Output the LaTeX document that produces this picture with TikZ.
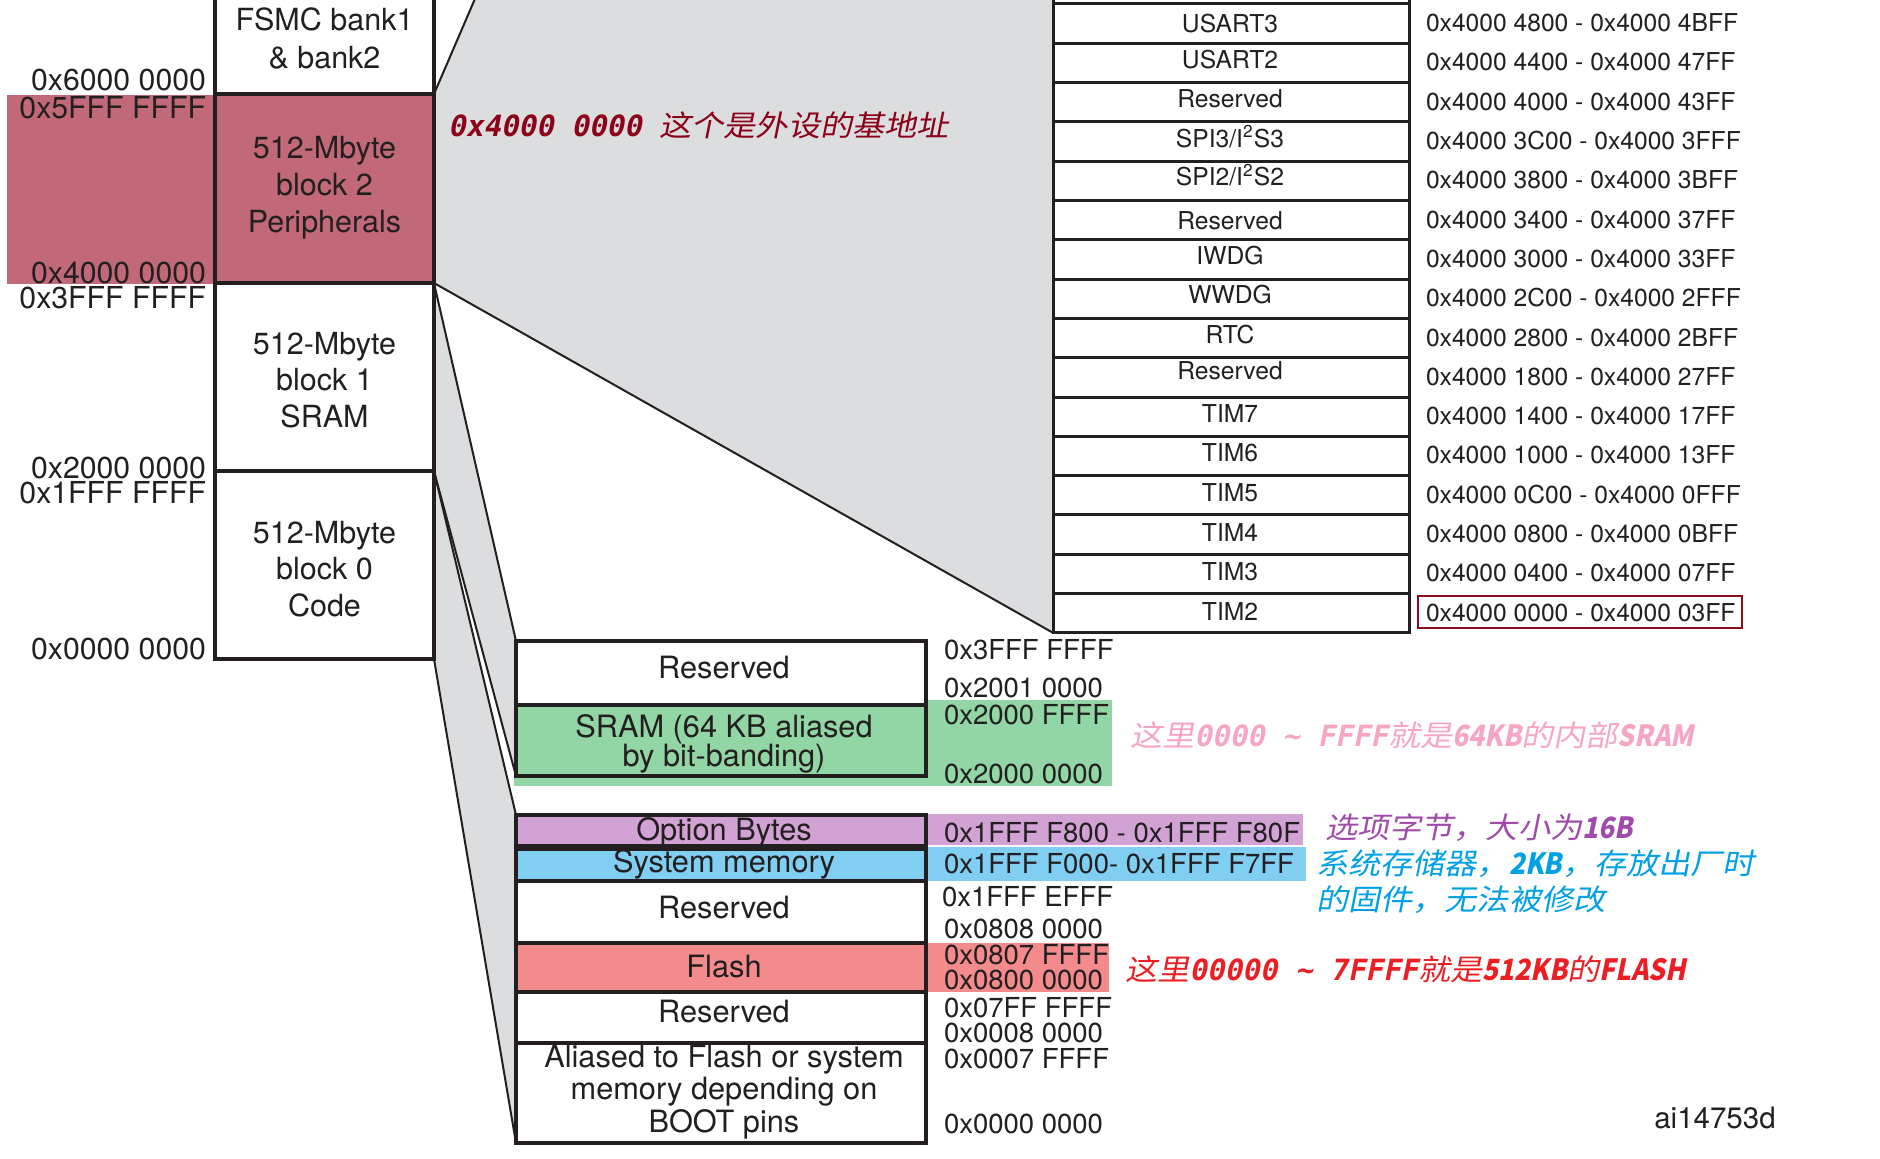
\documentclass[tikz,border=0pt]{standalone}
\usepackage{fontspec}
\setmainfont{TeX Gyre Heros}
\newfontfamily\cjk[FakeSlant=0.2,FakeStretch=1.1]{Noto Sans CJK SC}
\newfontfamily\latb[FakeSlant=0.2,FakeStretch=0.9]{Noto Sans CJK SC}
\newfontfamily\hexmono[FakeSlant=0.2]{DejaVu Sans Mono}
\usetikzlibrary{backgrounds}

% centred lines whose base is the first line's baseline
\newcommand\mlines[2]{\vtop{\baselineskip=#1\relax\halign{\hfil##\hfil\cr#2\crcr}}}
\newcommand\zh[1]{{\cjk\mdseries #1}}
\newcommand\zhb[1]{{\latb\bfseries #1}}
\newcommand\hx[1]{{\hexmono\bfseries #1}}

\definecolor{ink}{RGB}{35,31,32}
\definecolor{periph}{RGB}{193,105,121}
\definecolor{zoomgray}{RGB}{220,221,223}
\definecolor{sramgreen}{RGB}{145,214,164}
\definecolor{optpurple}{RGB}{209,162,211}
\definecolor{sysblue}{RGB}{128,206,242}
\definecolor{flashred}{RGB}{243,139,141}
\definecolor{boxred}{RGB}{139,10,30}
\definecolor{notedark}{RGB}{140,0,25}
\definecolor{notepink}{RGB}{247,165,196}
\definecolor{notepurple}{RGB}{160,75,170}
\definecolor{noteblue}{RGB}{0,160,230}
\definecolor{notered}{RGB}{235,30,35}

\begin{document}
\begin{tikzpicture}[x=0.4pt,y=-0.4pt,
  every node/.style={inner sep=0pt,outer sep=0pt,text=ink},
  memblk/.style={draw=ink,line width=1.3pt,fill=white,minimum width=219*0.4pt},
  periphrow/.style={draw=ink,line width=1.2pt,fill=white,minimum width=356*0.4pt,minimum height=39.3*0.4pt},
  subblk/.style={draw=ink,line width=1.3pt,fill=white,minimum width=410*0.4pt},
  zoomline/.style={draw=ink,line width=0.8pt},
  bigtxt/.style={font=\fontsize{12.2}{14.7}\selectfont,anchor=base},
  subtxt/.style={font=\fontsize{12.3}{14.7}\selectfont,anchor=base},
  tabtxt/.style={font=\fontsize{9.85}{11}\selectfont},
  leftaddr/.style={font=\fontsize{12.1}{14}\selectfont,anchor=base east},
  lowaddr/.style={font=\fontsize{11}{13}\selectfont,anchor=base west},
  note/.style={anchor=base west,font=\fontsize{11.7}{14}\selectfont}]

\useasboundingbox (0,0) rectangle (1880,1159);

% ---- 4 GB overview column ----
\node[memblk,minimum height=189*0.4pt] (fsmc) at (324.5,-0.5) {};
\node[memblk,minimum height=189*0.4pt,fill=periph] (b2) at (324.5,188.5) {};
\node[memblk,minimum height=188*0.4pt] (b1) at (324.5,377) {};
\node[memblk,minimum height=188*0.4pt] (b0) at (324.5,565) {};

\node[bigtxt] (fsmcT) at (324.5,31) {\mlines{14.8pt}{FSMC bank1\cr\& bank2}};
\node[bigtxt] (b2T) at (324.5,159) {\mlines{14.7pt}{512-Mbyte\cr block 2\cr Peripherals}};
\node[bigtxt] (b1T) at (324.5,354) {\mlines{14.7pt}{512-Mbyte\cr block 1\cr SRAM}};
\node[bigtxt] (b0T) at (324.5,543) {\mlines{14.7pt}{512-Mbyte\cr block 0\cr Code}};

\node[leftaddr] (a60) at (206,91) {0x6000 0000};
\node[leftaddr] (a5f) at (206,119) {0x5FFF FFFF};
\node[leftaddr] (a40) at (206,283) {0x4000 0000};
\node[leftaddr] (a3f) at (206,308) {0x3FFF FFFF};
\node[leftaddr] (a20) at (206,478) {0x2000 0000};
\node[leftaddr] (a1f) at (206,503) {0x1FFF FFFF};
\node[leftaddr] (a00) at (206,659) {0x0000 0000};

% ---- peripheral register map ----
\node[periphrow] (rowtop) at (1231,-15.65) {};
\foreach \i/\nm/\dy/\lo/\hi in {0/USART3/9/4800/4BFF, 1/USART2/5.5/4400/47FF,
  2/Reserved/5.5/4000/43FF, 3/{SPI3/I\textsuperscript{2}S3}/5.5/3C00/3FFF,
  4/{SPI2/I\textsuperscript{2}S2}/4.5/3800/3BFF, 5/Reserved/9.5/3400/37FF,
  6/IWDG/5/3000/33FF, 7/WWDG/5/2C00/2FFF, 8/RTC/5.5/2800/2BFF,
  9/Reserved/2.5/1800/27FF, 10/TIM7/5.5/1400/17FF, 11/TIM6/5.5/1000/13FF,
  12/TIM5/6.5/0C00/0FFF, 13/TIM4/6.5/0800/0BFF, 14/TIM3/7/0400/07FF,
  15/TIM2/7.5/0000/03FF}{
  \pgfmathsetmacro\cy{23.65+39.3*\i}
  \node[periphrow] (row\i) at (1231,\cy) {};
  \node[tabtxt,anchor=base] (nm\i) at (1230,\cy+\dy) {\nm};
  \node[tabtxt,anchor=base west] (ad\i) at (1426,\cy+8) {0x4000 \lo{} - 0x4000 \hi};
}
\node[draw=boxred,line width=1pt,minimum width=324*0.4pt,minimum height=32*0.4pt] (hl) at (1580,612) {};

% ---- SRAM and code region detail ----
\node[subblk,minimum height=64*0.4pt] (lres1) at (721,673) {};
\node[subblk,minimum height=71*0.4pt,fill=sramgreen] (sram) at (721,740.5) {};
\node[subblk,minimum height=31*0.4pt,fill=optpurple] (opt) at (721,830.5) {};
\node[subblk,minimum height=32*0.4pt,fill=sysblue] (sysm) at (721,865) {};
\node[subblk,minimum height=62*0.4pt] (lres2) at (721,912) {};
\node[subblk,minimum height=49*0.4pt,fill=flashred] (flash) at (721,967.5) {};
\node[subblk,minimum height=51*0.4pt] (lres3) at (721,1017.5) {};
\node[subblk,minimum height=100*0.4pt] (alias) at (721,1093) {};

\node[subtxt] (lres1T) at (724,678) {Reserved};
\node[subtxt] (sramT) at (724,737) {\mlines{11.6pt}{SRAM (64 KB aliased\cr by bit-banding)}};
\node[subtxt] (optT) at (724,840) {Option Bytes};
\node[subtxt] (sysmT) at (724,872) {System memory};
\node[subtxt] (lres2T) at (724,918) {Reserved};
\node[subtxt] (flashT) at (724,977) {Flash};
\node[subtxt] (lres3T) at (724,1022) {Reserved};
\node[subtxt] (aliasT) at (724,1067) {\mlines{13pt}{Aliased to Flash or system\cr memory depending on\cr BOOT pins}};

\node[lowaddr] (la1) at (944,659) {0x3FFF FFFF};
\node[lowaddr] (la2) at (944,697) {0x2001 0000};
\node[lowaddr] (la3) at (944,724) {0x2000 FFFF};
\node[lowaddr] (la4) at (944,783) {0x2000 0000};
\node[lowaddr] (la5) at (944,842) {0x1FFF F800 - 0x1FFF F80F};
\node[lowaddr] (la6) at (944,873) {0x1FFF F000- 0x1FFF F7FF};
\node[lowaddr] (la7) at (942,906) {0x1FFF EFFF};
\node[lowaddr] (la8) at (944,938) {0x0808 0000};
\node[lowaddr] (la9) at (944,964) {0x0807 FFFF};
\node[lowaddr] (la10) at (944,989) {0x0800 0000};
\node[lowaddr] (la11) at (944,1017) {0x07FF FFFF};
\node[lowaddr] (la12) at (944,1042) {0x0008 0000};
\node[lowaddr] (la13) at (944,1068) {0x0007 FFFF};
\node[lowaddr] (la14) at (944,1133) {0x0000 0000};

% ---- notes ----
\node[note,text=notedark] (n1) at (448,136) {\hx{0x4000 0000 }\zh{这个是外设的基地址}};
\node[note,text=notepink] (n2) at (1130,746) {\zh{这里}\hx{0000 \textasciitilde\ FFFF}\zh{就是}\zhb{64KB}\zh{的内部}\zhb{SRAM}};
\node[note,text=notepurple] (n3) at (1325,838) {\zh{选项字节，大小为}\zhb{16B}};
\node[note,text=noteblue] (n4) at (1316,874) {\zh{系统存储器，}\zhb{2KB}\zh{，存放出厂时}};
\node[note,text=noteblue] (n5) at (1316,910) {\zh{的固件，无法被修改}};
\node[note,text=notered] (n6) at (1125,980) {\zh{这里}\hx{00000 \textasciitilde\ 7FFFF}\zh{就是}\zhb{512KB}\zh{的}\zhb{FLASH}};

\node[font=\fontsize{11.8}{14}\selectfont,anchor=base] (figid) at (1715,1128) {ai14753d};

% ---- zoom wedges, colour bands and connectors ----
\coordinate (upc) at (496,-50);
\coordinate (gtop) at (1053,-50);
\begin{scope}[on background layer]
  \fill[zoomgray] (b2.north east) -- (upc) -- (gtop) -- (row15.south west) -- (b2.south east) -- cycle;
  \fill[zoomgray] (b1.north east) -- (lres1.north west) -- (sram.south west) -- (b1.south east) -- cycle;
  \fill[zoomgray] (b0.north east) -- (opt.north west) -- (alias.south west) -- (b0.south east) -- cycle;
  \fill[periph] (7,95) rectangle (215,284);
  \fill[sramgreen] (514,700) rectangle (1112,786);
  \fill[optpurple] (514,814) rectangle (1303,845);
  \fill[sysblue] (514,847) rectangle (1306,881);
  \fill[flashred] (514,943) rectangle (1109,992);
  \draw[zoomline] (b2.north east) -- (upc);
  \draw[zoomline] (b2.south east) -- (row15.south west);
  \draw[zoomline] (b1.north east) -- (lres1.north west);
  \draw[zoomline] (b1.south east) -- (sram.south west);
  \draw[zoomline] (b0.north east) -- (opt.north west);
  \draw[zoomline] (b0.south east) -- (alias.south west);
\end{scope}
\end{tikzpicture}
\end{document}
